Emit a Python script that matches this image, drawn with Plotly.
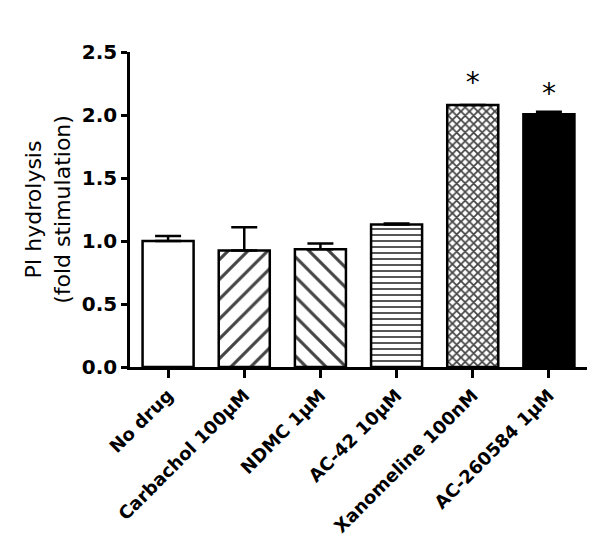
import plotly.graph_objects as go

categories = ["No drug", "Carbachol 100μM", "NDMC 1μM", "AC-42 10μM",
              "Xanomeline 100nM", "AC-260584 1μM"]
values = [1.00, 0.925, 0.935, 1.13, 2.08, 2.005]
errors = [0.04, 0.185, 0.045, 0.008, 0.0, 0.02]
star_labels = ["", "", "", "", "*", "*"]
star_y = [None, None, None, None, 2.24, 2.15]

fill_colors = ["white", "white", "white", "white", "white", "black"]
shapes = ["", "/", "\\", "-", "x", ""]
sizes = [10, 14, 14, 6, 6, 10]
solid = [0.2, 0.22, 0.22, 0.3, 0.5, 0.2]

font_fam = "DejaVu Sans, Arial, sans-serif"

fig = go.Figure()
fig.add_trace(go.Bar(
    x=categories, y=values, width=0.67,
    marker=dict(color=fill_colors,
                line=dict(color="black", width=2.5),
                pattern=dict(shape=shapes, size=sizes, solidity=solid,
                             fgcolor="black", fgopacity=1)),
    error_y=dict(type="data", array=errors, arrayminus=[0]*len(errors),
                 symmetric=False, color="black", thickness=2.5, width=13),
    showlegend=False,
))
fig.add_trace(go.Scatter(
    x=categories, y=star_y, mode="text", text=star_labels,
    textfont=dict(size=28, color="black", family=font_fam),
    textposition="middle center", showlegend=False, hoverinfo="skip",
))

fig.update_layout(
    width=592, height=533,
    margin=dict(l=122, r=13, t=44, b=174),
    paper_bgcolor="white", plot_bgcolor="white",
    font=dict(family=font_fam, color="black"),
    bargap=0.33,
)
fig.update_xaxes(
    range=[-0.5, 5.5], showline=True, linecolor="black", linewidth=2.5,
    ticks="outside", ticklen=8, tickwidth=2.5, tickcolor="black",
    tickangle=-45, tickfont=dict(size=18, family=font_fam, weight="bold"),
    showgrid=False, zeroline=False, automargin=False,
)
fig.update_yaxes(
    range=[0, 2.5], tickvals=[0, 0.5, 1.0, 1.5, 2.0, 2.5],
    ticktext=["0.0", "0.5", "1.0", "1.5", "2.0", "2.5"],
    showline=True, linecolor="black", linewidth=2.5,
    ticks="outside", ticklen=6, tickwidth=2.5, tickcolor="black",
    ticklabelstandoff=0,
    tickfont=dict(size=20, family=font_fam, weight="bold"),
    showgrid=False, zeroline=False, automargin=False,
    title=dict(text="PI hydrolysis<br>(fold stimulation)",
               font=dict(size=22, family=font_fam), standoff=6),
)

fig.write_html("out.html")
